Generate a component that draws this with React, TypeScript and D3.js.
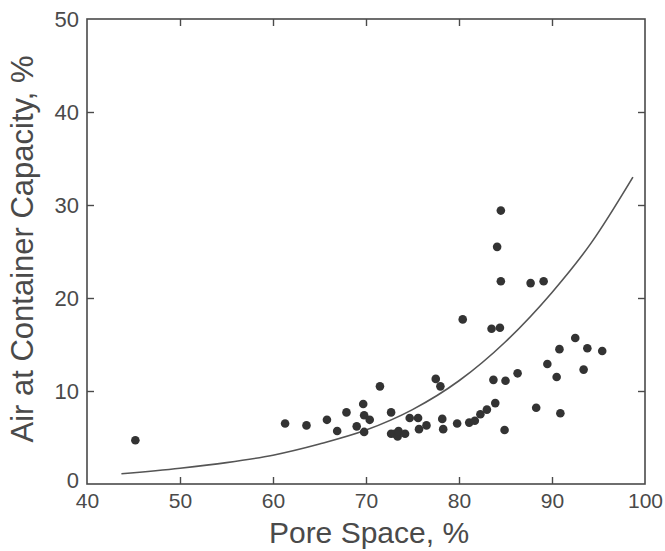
import React, { useEffect, useRef } from "react";
import * as d3 from "d3";

// pore space (%) and air at container capacity (%) for each sample
const poreSpace = [
  45.2, 61.3, 63.6, 65.8, 66.9, 67.9, 69.0, 69.7, 69.8, 70.4, 69.8, 71.5,
  72.7, 72.7, 73.1, 73.4, 73.5, 74.2, 74.7, 75.6, 75.7, 76.5, 77.5, 78.0,
  78.2, 78.3, 79.8, 80.4, 81.1, 81.7, 82.3, 83.0, 83.5, 84.4, 83.7, 83.9,
  85.0, 84.9, 86.3, 84.5, 87.7, 89.1, 84.1, 84.5, 88.3, 89.5, 90.5, 90.8,
  90.9, 92.5, 93.4, 93.8, 95.4,
];
const airCapacity = [
  4.7, 6.5, 6.3, 6.9, 5.7, 7.7, 6.2, 8.6, 7.4, 6.9, 5.6, 10.5,
  7.7, 5.4, 5.4, 5.1, 5.7, 5.4, 7.1, 7.1, 5.9, 6.3, 11.3, 10.5,
  7.0, 5.9, 6.5, 17.7, 6.6, 6.8, 7.5, 8.0, 16.7, 16.8, 11.2, 8.7,
  11.1, 5.8, 11.9, 21.8, 21.6, 21.8, 25.5, 29.4, 8.2, 12.9, 11.5, 14.5,
  7.6, 15.7, 12.3, 14.6, 14.3,
];

// fitted curve
const curvePore = [43.7, 50, 55, 60, 65, 70, 75, 80, 85, 90, 94.2, 98.7];
const curveAir = [1.1, 1.7, 2.3, 3.1, 4.3, 5.8, 8.0, 11.1, 15.3, 20.6, 25.9, 33.0];

const xTicks = [40, 50, 60, 70, 80, 90, 100];
const yTicks = [0, 10, 20, 30, 40, 50];

const xTitle = "Pore Space, %";
const yTitle = "Air at Container Capacity, %";

const W = 665, H = 551;
const left = 87, right = 645, top = 19, bottom = 484;
const ink = "#4a4a4a";
const font = "'Liberation Sans', Arial, Helvetica, sans-serif";

export default function App() {
  const ref = useRef<SVGSVGElement>(null);

  useEffect(() => {
    const svg = d3.select(ref.current);
    svg.selectAll("*").remove();

    const x = d3.scaleLinear().domain([40, 100]).range([left, right]);
    const y = d3.scaleLinear().domain([0, 50]).range([bottom, top]);

    // frame
    svg.append("rect")
      .attr("x", left).attr("y", top)
      .attr("width", right - left).attr("height", bottom - top)
      .attr("fill", "none").attr("stroke", ink).attr("stroke-width", 1.6);

    const inner = xTicks.slice(1, -1);
    const innerY = yTicks.slice(1, -1);

    const styleAxis = (g: any) => {
      g.select(".domain").remove();
      g.selectAll("line").attr("stroke", ink).attr("stroke-width", 1.4);
      g.selectAll("text").attr("fill", ink).style("font-family", font).style("font-size", "22px");
    };

    // bottom axis with labels, ticks inward
    const gx = svg.append("g").attr("transform", `translate(0,${bottom})`)
      .call(d3.axisBottom(x).tickValues(xTicks).tickSize(0).tickPadding(24).tickFormat(d3.format("d")));
    styleAxis(gx);
    gx.selectAll("text").attr("dy", "0").style("font-size", "21px");
    gx.selectAll(".tick").filter((d: any) => inner.includes(d))
      .append("line").attr("y2", -7).attr("stroke", ink).attr("stroke-width", 1.4);

    // top ticks
    svg.append("g").attr("transform", `translate(0,${top})`)
      .call(d3.axisTop(x).tickValues(inner).tickSize(-7).tickFormat(() => ""))
      .call(styleAxis);

    // left axis with labels
    const gy = svg.append("g").attr("transform", `translate(${left},0)`)
      .call(d3.axisLeft(y).tickValues(yTicks).tickSize(0).tickPadding(8).tickFormat(d3.format("d")));
    styleAxis(gy);
    gy.selectAll("text").filter((d: any) => d === 0).attr("y", -4);
    gy.selectAll(".tick").filter((d: any) => innerY.includes(d))
      .append("line").attr("x2", 7).attr("stroke", ink).attr("stroke-width", 1.4);

    // right ticks
    svg.append("g").attr("transform", `translate(${right},0)`)
      .call(d3.axisRight(y).tickValues(innerY).tickSize(-7).tickFormat(() => ""))
      .call(styleAxis);

    // curve
    const pts: [number, number][] = curvePore.map((p, i) => [p, curveAir[i]]);
    svg.append("path")
      .datum(pts)
      .attr("fill", "none").attr("stroke", "#555").attr("stroke-width", 1.6)
      .attr("d", d3.line<[number, number]>().x(d => x(d[0])).y(d => y(d[1])).curve(d3.curveMonotoneX));

    // points
    svg.append("g").selectAll("circle")
      .data(poreSpace.map((p, i) => [p, airCapacity[i]]))
      .enter().append("circle")
      .attr("cx", d => x(d[0])).attr("cy", d => y(d[1]))
      .attr("r", 4.3).attr("fill", "#333");

    // titles
    svg.append("text")
      .attr("x", (left + right) / 2 + 3).attr("y", 543)
      .attr("text-anchor", "middle").attr("fill", ink)
      .style("font-family", font).style("font-size", "30px")
      .text(xTitle);

    svg.append("text")
      .attr("transform", `translate(33,249) rotate(-90)`)
      .attr("text-anchor", "middle").attr("fill", ink)
      .style("font-family", font).style("font-size", "31px")
      .text(yTitle);
  }, []);

  return (
    <>
      <style>{`body{margin:0;background:#fff}`}</style>
      <svg ref={ref} width={W} height={H} style={{ display: "block" }} />
    </>
  );
}
